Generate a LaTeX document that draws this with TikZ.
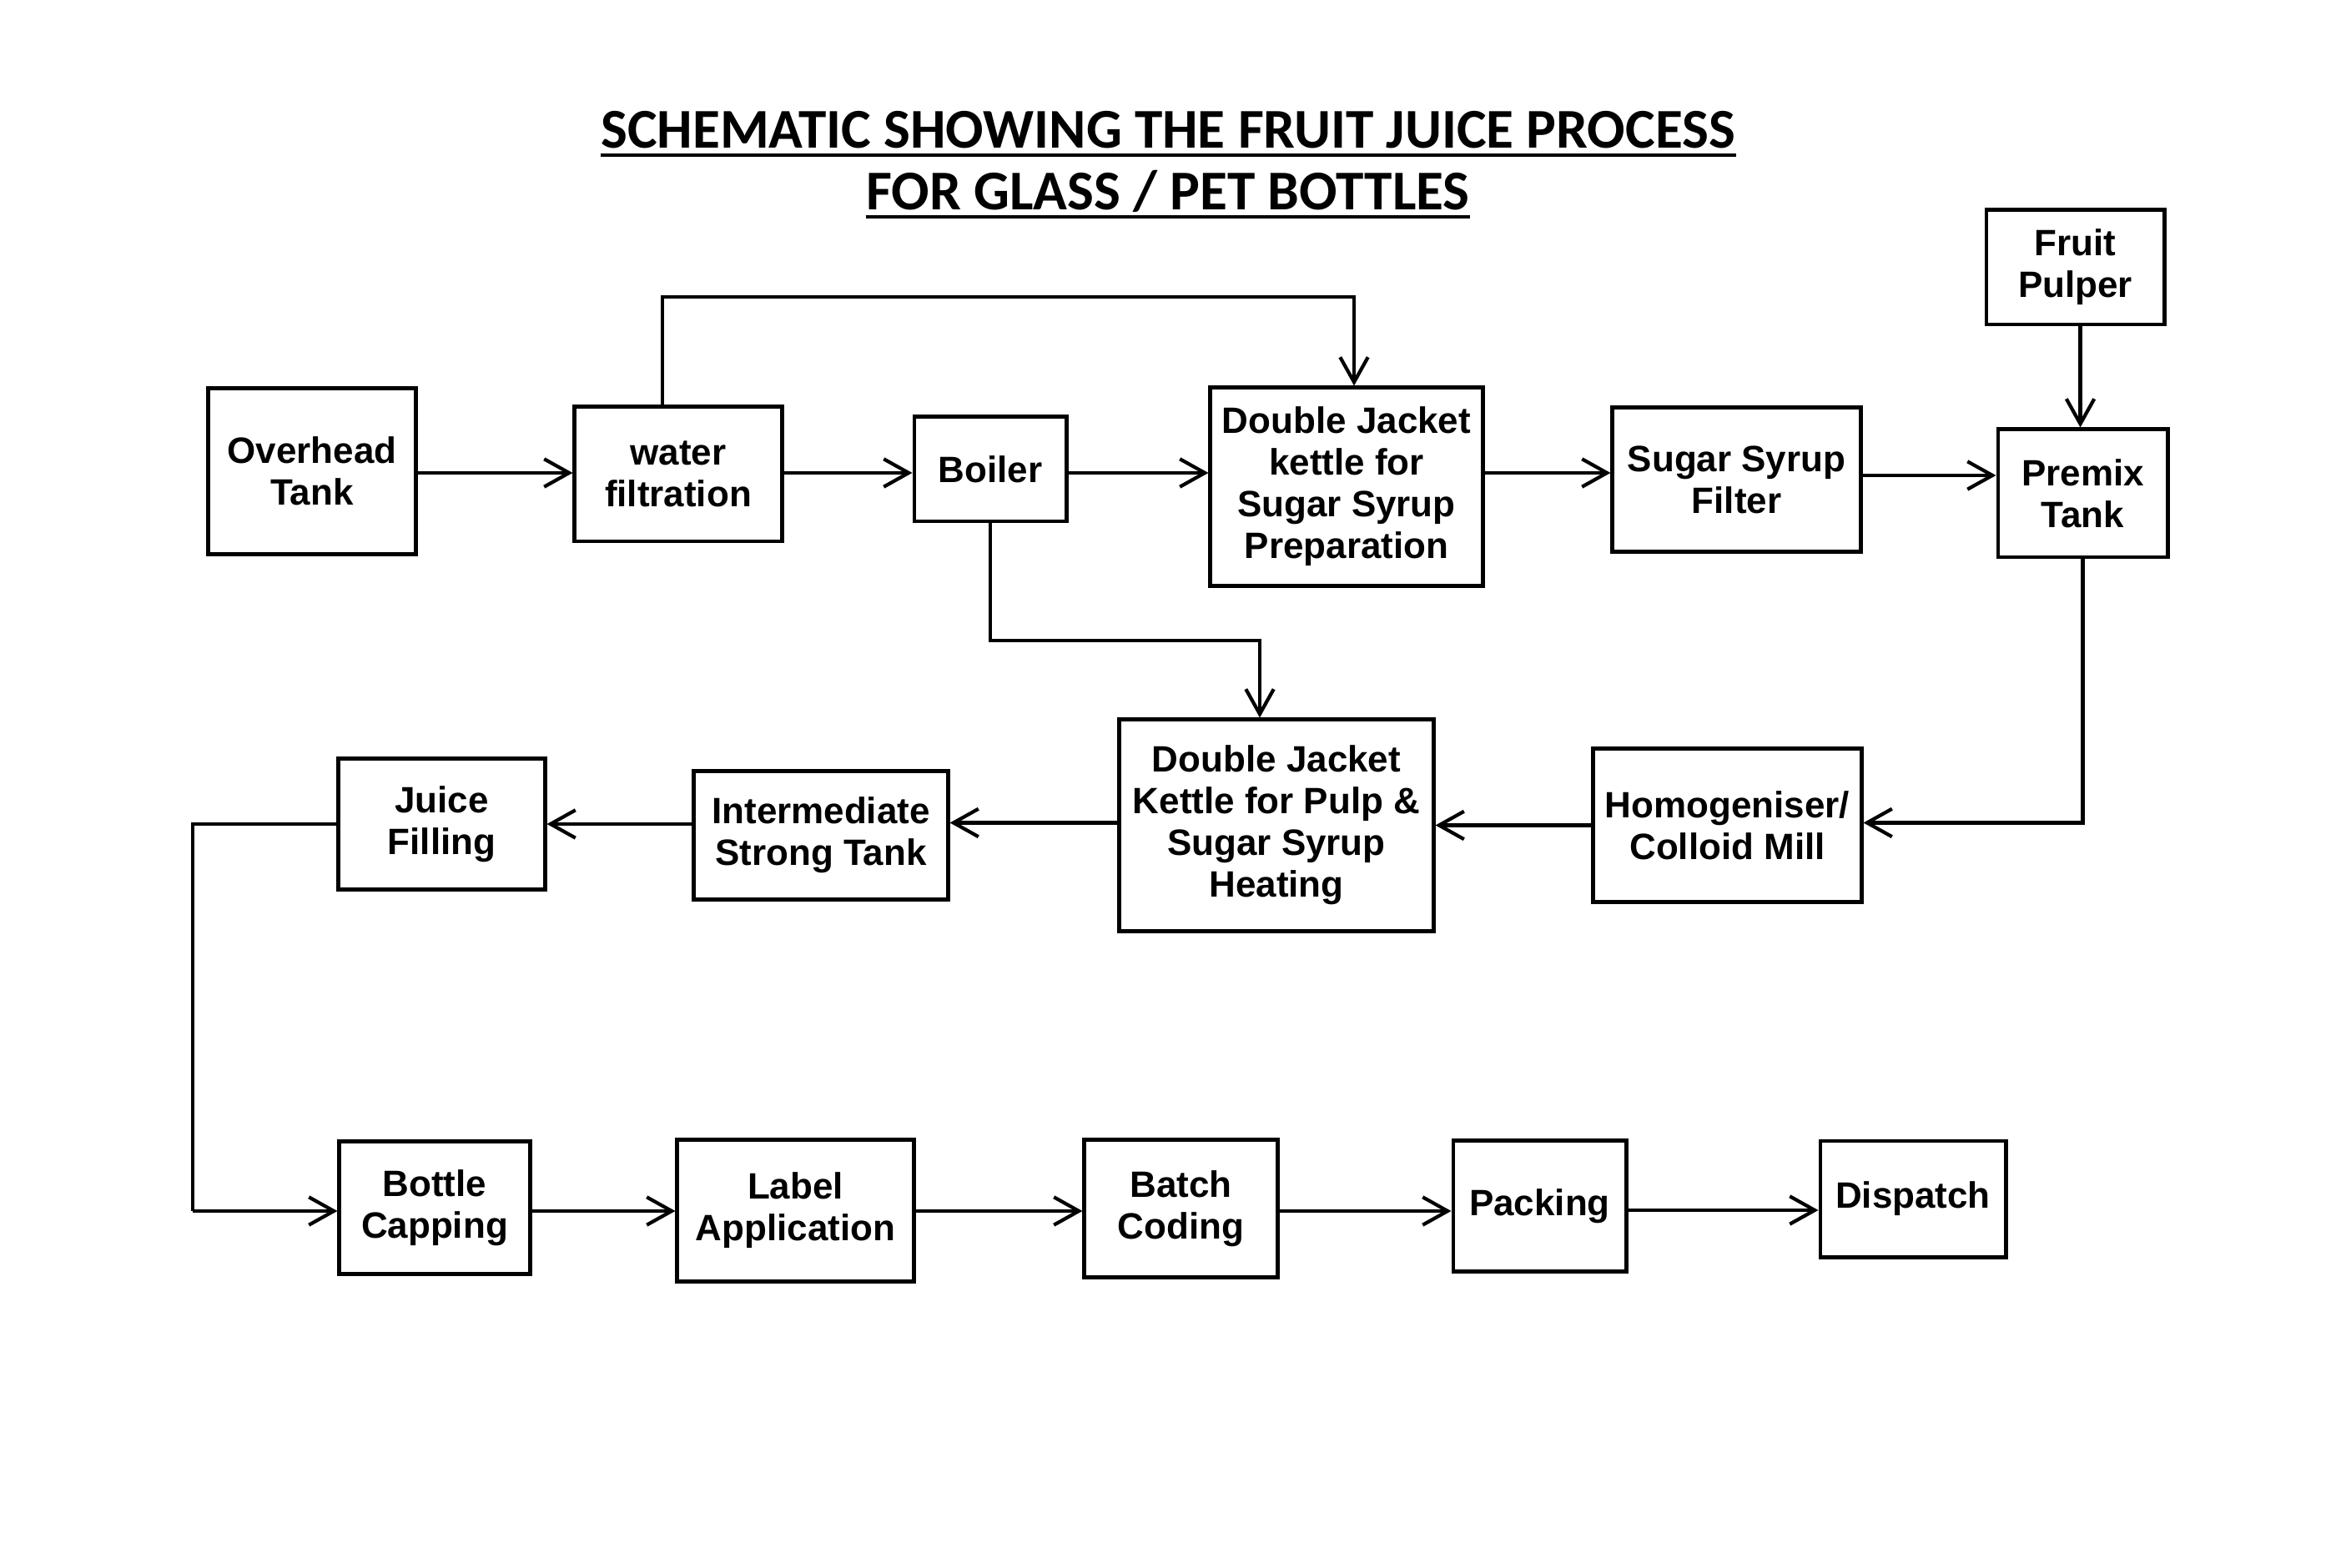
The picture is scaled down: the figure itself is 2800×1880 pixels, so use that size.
\documentclass[tikz,border=0pt]{standalone}
\usepackage{fontspec}
\setmainfont{Liberation Sans}
\newfontfamily\titlefont{Carlito}
\usetikzlibrary{arrows.meta,calc}
\tikzset{
  box/.style={draw=black, line width=1.4pt, fill=white, inner sep=0pt, align=center,
    font=\fontsize{12.5}{14.2}\selectfont\bfseries},
  arr/.style={line width=1.2pt, -{Straight Barb[length=8.5pt,width=9.5pt]}},
  link/.style={line width=1.2pt},
  ttl/.style={inner sep=0pt, font=\titlefont\fontsize{19.15}{22}\selectfont\bfseries},
  ul/.style={line width=0.9pt}
}
\begin{document}
\begin{tikzpicture}[x=0.01cm,y=-0.01cm]
\useasboundingbox (0,0) rectangle (2800,1880);
% title
\node[ttl, anchor=base] (t1) at (1400,178) {SCHEMATIC SHOWING THE FRUIT JUICE PROCESS};
\node[ttl, anchor=base] (t2) at (1400,252) {FOR GLASS / PET BOTTLES};
\draw[ul] ([yshift=-2.3pt]t1.base west) -- ([yshift=-2.3pt]t1.base east);
\draw[ul] ([yshift=-2.3pt]t2.base west) -- ([yshift=-2.3pt]t2.base east);
% row 1
\node[box, minimum width=2.48cm, minimum height=1.98cm] (ot) at (374,565) {Overhead\\Tank};
\node[box, minimum width=2.48cm, minimum height=1.61cm] (wf) at (813,568.5) {water\\filtration};
\node[box, minimum width=1.82cm, minimum height=1.25cm] (bo) at (1187,562.5) {Boiler};
\node[box, minimum width=3.26cm, minimum height=2.37cm] (dj1) at (1614,583.5) {Double Jacket\\kettle for\\Sugar Syrup\\Preparation};
\node[box, minimum width=2.97cm, minimum height=1.72cm] (ssf) at (2081.5,575) {Sugar Syrup\\Filter};
\node[box, minimum width=2.13cm, minimum height=1.37cm] (fp) at (2487.5,320.5) {Fruit\\Pulper};
\node[box, minimum width=2.03cm, minimum height=1.53cm] (pt) at (2496.5,591.5) {Premix\\Tank};
% row 2
\node[box, minimum width=3.21cm, minimum height=1.83cm] (hom) at (2070.5,989.5) {Homogeniser/\\Colloid Mill};
\node[box, minimum width=3.76cm, minimum height=2.53cm] (dj2) at (1530,989.5) {Double Jacket\\Kettle for Pulp \&\\Sugar Syrup\\Heating};
\node[box, minimum width=3.04cm, minimum height=1.53cm] (ist) at (984,1001.5) {Intermediate\\Strong Tank};
\node[box, minimum width=2.47cm, minimum height=1.56cm] (jf) at (529.5,988) {Juice\\Filling};
% row 3
\node[box, minimum width=2.28cm, minimum height=1.58cm] (bc) at (521,1448) {Bottle\\Capping};
\node[box, minimum width=2.83cm, minimum height=1.69cm] (la) at (953.5,1451.5) {Label\\Application};
\node[box, minimum width=2.31cm, minimum height=1.65cm] (bcd) at (1415.5,1449) {Batch\\Coding};
\node[box, minimum width=2.07cm, minimum height=1.56cm] (pk) at (1845.5,1446) {Packing};
\node[box, minimum width=2.22cm, minimum height=1.39cm] (dp) at (2293,1437.5) {Dispatch};
% helper coordinates
\coordinate (r1) at (0,567);
\coordinate (top) at (1200,356);
\coordinate (mid) at (1350,768);
\coordinate (lc) at (231,1452);
% connectors row 1
\draw[arr] (ot.east |- r1) -- (wf.west |- r1);
\draw[arr] (wf.east |- r1) -- (bo.west |- r1);
\draw[arr] (bo.east |- r1) -- (dj1.west |- r1);
\draw[arr] (dj1.east |- r1) -- (ssf.west |- r1);
\draw[arr] ([yshift=0.05cm]ssf.east) -- ([yshift=0.05cm]ssf.east -| pt.west);
\draw[arr] ([xshift=-0.19cm]wf.north) |- (top) -| ([xshift=0.09cm]dj1.north);
\draw[arr] ([xshift=0.06cm]fp.south) -- ([xshift=0.06cm]fp.south |- pt.north);
% down to row 2
\draw[arr] (bo.south) |- (mid) -| ([xshift=-0.2cm]dj2.north);
\draw[arr] (pt.south) |- ([yshift=0.03cm]hom.east);
\draw[arr] (hom.west) -- (dj2.east);
\draw[arr] ([yshift=0.03cm]dj2.west) -- ([yshift=0.03cm]dj2.west -| ist.east);
\draw[arr] (ist.west |- jf.east) -- (jf.east);
% down to row 3
\draw[link] (jf.west) -| (lc);
\draw[arr] (lc) -- (lc -| bc.west);
\draw[arr] (bc.east |- lc) -- (la.west |- lc);
\draw[arr] (la.east |- lc) -- (bcd.west |- lc);
\draw[arr] (bcd.east |- lc) -- (pk.west |- lc);
\draw[arr] ([yshift=-0.05cm]pk.east) -- ([yshift=-0.05cm]pk.east -| dp.west);
\end{tikzpicture}
\end{document}
